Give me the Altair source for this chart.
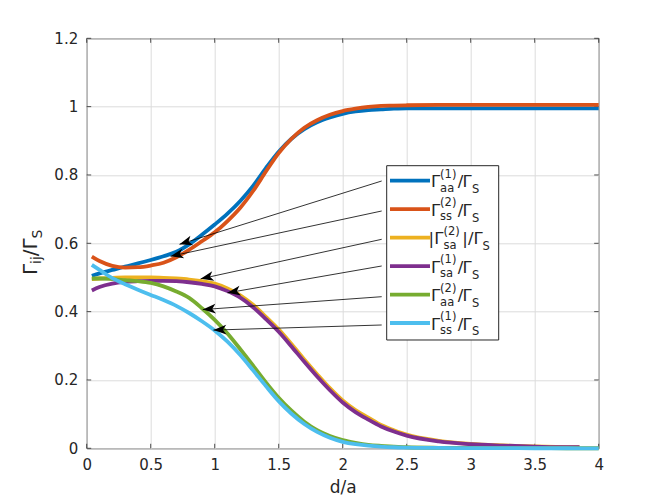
import math
import altair as alt
import pandas as pd

# ---------------- data ----------------
d_vals = [0.04, 0.1, 0.2, 0.3, 0.4, 0.5, 0.6, 0.7, 0.8, 0.9, 1.0, 1.1, 1.2, 1.3, 1.4, 1.5,
          1.6, 1.7, 1.8, 1.9, 2.0, 2.1, 2.2, 2.3, 2.4, 2.5, 2.75, 3.0, 3.25, 3.5, 3.75, 4.0]
d_vals_short = d_vals[:31] + [3.85]

g_aa1 = [0.505, 0.512, 0.522, 0.532, 0.541, 0.551, 0.562, 0.575, 0.597, 0.625, 0.655, 0.687,
         0.724, 0.768, 0.820, 0.868, 0.906, 0.934, 0.954, 0.968, 0.979, 0.986, 0.990, 0.992,
         0.994, 0.995, 0.995, 0.995, 0.995, 0.995, 0.995, 0.995]
g_ss2 = [0.561, 0.548, 0.534, 0.529, 0.530, 0.535, 0.543, 0.559, 0.581, 0.606, 0.632, 0.665,
         0.704, 0.753, 0.810, 0.864, 0.906, 0.938, 0.960, 0.976, 0.987, 0.994, 0.999, 1.002,
         1.003, 1.004, 1.005, 1.005, 1.005, 1.005, 1.005, 1.005]
g_sa2_abs = [0.495, 0.497, 0.499, 0.500, 0.500, 0.500, 0.499, 0.497, 0.494, 0.489, 0.482, 0.468,
             0.448, 0.420, 0.385, 0.348, 0.305, 0.260, 0.217, 0.176, 0.140, 0.112, 0.090, 0.068,
             0.053, 0.040, 0.022, 0.013, 0.0085, 0.0055, 0.0035, 0.003]
g_sa1 = [0.462, 0.472, 0.482, 0.487, 0.489, 0.490, 0.490, 0.489, 0.486, 0.481, 0.474, 0.460,
         0.441, 0.413, 0.378, 0.341, 0.298, 0.253, 0.210, 0.170, 0.134, 0.106, 0.084, 0.064,
         0.049, 0.037, 0.020, 0.012, 0.008, 0.005, 0.003, 0.003]
g_aa2 = [0.497, 0.497, 0.495, 0.492, 0.489, 0.484, 0.474, 0.459, 0.440, 0.410, 0.376, 0.336,
         0.290, 0.242, 0.193, 0.148, 0.110, 0.078, 0.053, 0.036, 0.024, 0.016, 0.010, 0.007,
         0.005, 0.003, 0.0015, 0.001, 0.0005, 0.0003, 0.0002, 0.0001]
g_ss1 = [0.537, 0.522, 0.498, 0.480, 0.464, 0.449, 0.434, 0.417, 0.396, 0.372, 0.345, 0.312,
         0.273, 0.228, 0.182, 0.138, 0.101, 0.071, 0.048, 0.031, 0.019, 0.012, 0.008, 0.005,
         0.003, 0.002, 0.001, 0.0005, 0.0003, 0.0002, 0.0001, 0.0]

series_keys = ["aa1", "ss2", "sa2", "sa1", "aa2", "ss1"]
series_d = [d_vals, d_vals, d_vals_short, d_vals_short, d_vals, d_vals]
series_v = [g_aa1, g_ss2, g_sa2_abs, g_sa1, g_aa2, g_ss1]
series_colors = ["#0072BD", "#D95319", "#EDB120", "#7E2F8E", "#77AC30", "#4DBEEE"]
legend_sup = ["(1)", "(2)", "(2)", "(1)", "(2)", "(1)"]
legend_sub = ["aa", "ss", "sa", "sa", "aa", "ss"]
legend_abs = [False, False, True, False, False, False]

arrow_tip_d = [0.725, 0.655, 0.89, 1.10, 0.907, 0.99]
arrow_tip_v = [0.597, 0.562, 0.496, 0.455, 0.406, 0.346]

x_ticks = [0, 0.5, 1, 1.5, 2, 2.5, 3, 3.5, 4]
y_ticks = [0, 0.2, 0.4, 0.6, 0.8, 1.0, 1.2]

# ---------------- layout ----------------
W, H = 512, 410
X_DOM = [0, 4]
Y_DOM = [0, 1.2]
FONT = "DejaVu Sans"
INK = "#262626"
LW = 3.8


def px2d(px):
    return X_DOM[0] + px / W * (X_DOM[1] - X_DOM[0])


def py2v(py):
    return Y_DOM[1] - py / H * (Y_DOM[1] - Y_DOM[0])


def d2px(d):
    return (d - X_DOM[0]) / (X_DOM[1] - X_DOM[0]) * W


def v2py(v):
    return (Y_DOM[1] - v) / (Y_DOM[1] - Y_DOM[0]) * H


xs = alt.Scale(domain=X_DOM, nice=False, zero=False)
ys = alt.Scale(domain=Y_DOM, nice=False, zero=False)

x_axis = alt.Axis(values=x_ticks, format=".1~f", grid=True, ticks=False, tickSize=0,
                  domain=False, labelPadding=9, labelFlush=False, labelOverlap=False,
                  title="d/a", titlePadding=7, titleFontSize=17, titleFontWeight="normal")
y_axis = alt.Axis(values=y_ticks, format=".1~f", grid=True, ticks=False, tickSize=0,
                  domain=False, labelPadding=9, labelOverlap=False, title=None)


def X(field):
    return alt.X(field, scale=xs, axis=x_axis, title="d/a")


def Y(field):
    return alt.Y(field, scale=ys, axis=y_axis, title=None)


layers = []

# inward tick marks on all four sides
TL = 4.5
df_xt = pd.DataFrame({"t": x_ticks})
df_yt = pd.DataFrame({"t": y_ticks})
layers.append(alt.Chart(df_xt).mark_rule(color=INK, strokeWidth=0.8).encode(
    x=X("t:Q"), y=alt.value(H), y2=alt.value(H - TL)))
layers.append(alt.Chart(df_xt).mark_rule(color=INK, strokeWidth=0.8).encode(
    x=X("t:Q"), y=alt.value(0), y2=alt.value(TL)))
layers.append(alt.Chart(df_yt).mark_rule(color=INK, strokeWidth=0.8).encode(
    y=Y("t:Q"), x=alt.value(0), x2=alt.value(TL)))
layers.append(alt.Chart(df_yt).mark_rule(color=INK, strokeWidth=0.8).encode(
    y=Y("t:Q"), x=alt.value(W), x2=alt.value(W - TL)))

# curves
for key, dv, vv, col in zip(series_keys, series_d, series_v, series_colors):
    df = pd.DataFrame({"d": dv, "v": vv})
    layers.append(alt.Chart(df).mark_line(color=col, strokeWidth=LW, interpolate="monotone").encode(
        x=X("d:Q"), y=Y("v:Q")))

# legend box
BOX = (300, 412, 127.4, 301.7)  # left, right, top, bottom (px)
df_box = pd.DataFrame({"x1": [px2d(BOX[0])], "x2": [px2d(BOX[1])],
                       "y1": [py2v(BOX[2])], "y2": [py2v(BOX[3])]})
layers.append(alt.Chart(df_box).mark_rect(fill="white", stroke=INK, strokeWidth=1).encode(
    x=X("x1:Q"), x2="x2:Q", y=Y("y1:Q"), y2="y2:Q"))

ROW0, ROWSTEP = 142.4, 28.46
row_y = [ROW0 + i * ROWSTEP for i in range(6)]

df_samples = pd.DataFrame({
    "key": series_keys,
    "x1": [px2d(303.3)] * 6, "x2": [px2d(343.3)] * 6,
    "y": [py2v(r) for r in row_y]})
layers.append(alt.Chart(df_samples).mark_rule(strokeWidth=LW, strokeCap="butt").encode(
    x=X("x1:Q"), x2="x2:Q", y=Y("y:Q"),
    color=alt.Color("key:N", scale=alt.Scale(domain=series_keys, range=series_colors), legend=None)))

main_pieces, small_pieces = [], []
for i, r in enumerate(row_y):
    if legend_abs[i]:
        main_pieces += [("|", 341.8, r + 6.6), ("\u0393", 347.5, r + 6.6), ("|", 375.5, r + 6.6),
                        ("/", 381.3, r + 6.6), ("\u0393", 386.7, r + 6.6)]
        small_pieces += [(legend_sup[i], 356.8, r - 2.8), (legend_sub[i], 356.8, r + 11.0),
                         ("S", 395.8, r + 12.5)]
    else:
        main_pieces += [("\u0393", 344.4, r + 6.6), ("/", 371.0, r + 6.6), ("\u0393", 375.7, r + 6.6)]
        small_pieces += [(legend_sup[i], 353.4, r - 2.8), (legend_sub[i], 353.4, r + 11.0),
                         ("S", 385.2, r + 12.5)]


def text_df(pieces):
    return pd.DataFrame({"text": [p[0] for p in pieces],
                         "d": [px2d(p[1]) for p in pieces],
                         "v": [py2v(p[2]) for p in pieces]})


for pieces, fs in ((main_pieces, 16.5), (small_pieces, 11.5)):
    layers.append(alt.Chart(text_df(pieces)).mark_text(
        align="left", baseline="alphabetic", font=FONT, fontSize=fs, color=INK).encode(
        x=X("d:Q"), y=Y("v:Q"), text="text:N"))

# y-axis title  Γ_ij / Γ_S  (rotated)
YT0 = 236.8
yt_main = [("\u0393", -49.7, YT0), ("/", -49.7, YT0 - 18.9), ("\u0393", -49.7, YT0 - 25.6)]
yt_small = [("ij", -45.2, YT0 - 11.1), ("S", -44.7, YT0 - 36.7)]
for pieces, fs in ((yt_main, 20), (yt_small, 14)):
    layers.append(alt.Chart(text_df(pieces)).mark_text(
        align="left", baseline="alphabetic", font=FONT, fontSize=fs, color=INK, angle=270).encode(
        x=X("d:Q"), y=Y("v:Q"), text="text:N"))

# annotation arrows from legend to curves
TAIL_PX = 295
arrow_tail_py = [142.7, 172.7, 201.0, 227.7, 258.4, 286.7]
ang = []
for td, tv, tpy in zip(arrow_tip_d, arrow_tip_v, arrow_tail_py):
    a = math.degrees(math.atan2(v2py(tv) - tpy, d2px(td) - TAIL_PX)) % 360
    ang.append(a)
df_arrows = pd.DataFrame({"tip_d": arrow_tip_d, "tip_v": arrow_tip_v,
                          "tail_d": [px2d(TAIL_PX)] * 6,
                          "tail_v": [py2v(p) for p in arrow_tail_py],
                          "ang": ang})
layers.append(alt.Chart(df_arrows).mark_rule(color="black", strokeWidth=0.8).encode(
    x=X("tip_d:Q"), x2="tail_d:Q", y=Y("tip_v:Q"), y2="tail_v:Q"))
ARROW_PATH = "M0,0 L-1.85,-0.7 L-1.35,0 L-1.85,0.7 Z"
layers.append(alt.Chart(df_arrows).mark_point(
    shape=ARROW_PATH, filled=True, size=196, color="black", opacity=1, strokeWidth=0).encode(
    x=X("tip_d:Q"), y=Y("tip_v:Q"),
    angle=alt.Angle("ang:Q", scale=None)))

chart = alt.layer(*layers).properties(
    width=W, height=H,
    autosize=alt.AutoSizeParams(type="none"),
    padding={"left": 78.7, "top": 30.3, "right": 55, "bottom": 47},
).configure_view(stroke=INK, strokeWidth=1).configure_axis(
    labelFont=FONT, labelFontSize=15, labelColor=INK,
    titleFont=FONT, titleColor=INK,
    gridColor="#dcdcdc", gridWidth=1,
)

chart.save("out.html", embed_options={"renderer": "svg", "actions": False})
